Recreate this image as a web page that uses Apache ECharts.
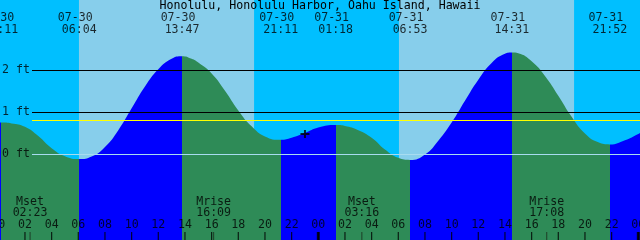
<!DOCTYPE html>
<html><head><meta charset="utf-8">
<script src="https://cdn.jsdelivr.net/npm/echarts@6/dist/echarts.min.js"></script>
<style>html,body{margin:0;padding:0;background:#00BFFF}#c{width:640px;height:240px}</style>
</head><body><div id="c"></div>
<script>
// ---------------- data ----------------
const title = 'Honolulu, Honolulu Harbor, Oahu Island, Hawaii';
const tideDates = ['07-30','07-30','07-30','07-30','07-31','07-31','07-31','07-31'];
const tideClock = ['00:11','06:04','13:47','21:11','01:18','06:53','14:31','21:52'];
const tideType  = ['H','L','H','L','H','L','H','L'];
// tide curve: hours since 07-30 00:00, feet
const curveHours = [0,0.183,1,2,3,4,5,6.067,7,8,9,10,11,12,13,13.783,14.5,15,16,17,18,19,20,21.183,22,23,24,25.3,26,27,28,29,30,30.883,32,33,34,35,36,37,38,38.517,39,40,41,42,43,44,45,45.867,47,48,48.2];
const curveFeet  = [0.76,0.76,0.74,0.66,0.44,0.15,-0.04,-0.11,-0.05,0.18,0.58,1.10,1.62,2.03,2.28,2.34,2.28,2.19,1.93,1.52,1.05,0.67,0.43,0.35,0.40,0.51,0.64,0.70,0.68,0.58,0.40,0.12,-0.08,-0.13,0.00,0.33,0.76,1.28,1.78,2.18,2.40,2.43,2.41,2.22,1.87,1.40,0.90,0.50,0.29,0.24,0.34,0.49,0.52];
const sunriseDates = ['07-30','07-31'];
const sunriseClock = ['06:03','06:03'];
const sunsetDates  = ['07-30','07-31'];
const sunsetClock  = ['19:11','19:11'];
const moonNames = ['Mset','Mrise','Mset','Mrise'];
const moonDates = ['07-30','07-30','07-31','07-31'];
const moonClock = ['02:23','16:09','03:16','17:08'];
const hourTicks  = [0,2,4,6,8,10,12,14,16,18,20,22,24,26,28,30,32,34,36,38,40,42,44,46,48];
const hourLabels = ['00','02','04','06','08','10','12','14','16','18','20','22','00','02','04','06','08','10','12','14','16','18','20','22','00'];
const midnightTicks = [0,24,48];
const levelFeet   = [0,1,2];
const levelLabels = ['0 ft','1 ft','2 ft'];
const mslFeet = 0.81;
const nowDate = '07-30', nowClock = '23:00', nowFeet = 0.49;

// ---------------- layout ----------------
const W = 640, H = 240;
const PX_PER_HOUR = W / 48;
const X_MIN = 1.7 / PX_PER_HOUR, X_MAX = X_MIN + 48;
const PX_PER_FT = 42, ZERO_Y = 154.5;
const Y_MAX = ZERO_Y / PX_PER_FT, Y_MIN = -(H - ZERO_Y) / PX_PER_FT;
const pyToFeet = py => Y_MAX - py / PX_PER_FT;
const LINE_X0 = X_MIN + 32 / PX_PER_HOUR;
const toHours = (d, c) => (parseInt(d.slice(3), 10) - 30) * 24 + parseInt(c.slice(0, 2), 10) + parseInt(c.slice(3), 10) / 60;

const NIGHT = '#00BFFF', DAY = '#87CEEB', RISE = '#0000FF', FALL = '#2E8B57';
const FONT = 'DejaVu Sans Mono', FS = 11.6;

const tideHours = tideDates.map((d, i) => toHours(d, tideClock[i]));
const moonHours = moonDates.map((d, i) => toHours(d, moonClock[i]));
const nowHour = toHours(nowDate, nowClock);

const pieces = [];
pieces.push({ lt: tideHours[0], color: tideType[0] === 'H' ? RISE : FALL });
for (let i = 0; i < tideHours.length - 1; i++) {
  pieces.push({ gte: tideHours[i], lt: tideHours[i + 1], color: tideType[i] === 'H' ? FALL : RISE });
}
const last = tideHours.length - 1;
pieces.push({ gte: tideHours[last], color: tideType[last] === 'H' ? FALL : RISE });

function textSeries(points, labels, offset, extra) {
  return Object.assign({
    type: 'scatter', z: 10, clip: false, silent: true, symbolSize: 0,
    data: points,
    label: {
      show: true, position: 'inside', offset: offset,
      formatter: p => labels[p.dataIndex],
      fontFamily: FONT, fontSize: FS, color: '#000'
    }
  }, extra || {});
}
function tickSeries(hours, w, color) {
  return {
    type: 'scatter', z: 9, clip: true, silent: true,
    symbol: 'rect', symbolSize: [w, 16],
    itemStyle: { color: color },
    data: hours.map(h => [h, Y_MIN])
  };
}

const option = {
  animation: false,
  backgroundColor: NIGHT,
  title: {
    text: title, left: 'center', top: 0, padding: 0,
    textStyle: { fontFamily: FONT, fontSize: FS, fontWeight: 'normal', color: '#000' }
  },
  grid: { left: 0, right: 0, top: 0, bottom: 0 },
  xAxis: { type: 'value', min: X_MIN, max: X_MAX, show: false },
  yAxis: { type: 'value', min: Y_MIN, max: Y_MAX, show: false },
  visualMap: [{ type: 'piecewise', show: false, dimension: 0, seriesIndex: 2, pieces: pieces }],
  series: [
    { // day bands
      type: 'line', z: 1, silent: true, data: [[X_MIN, Y_MIN]], showSymbol: false,
      lineStyle: { opacity: 0 },
      markArea: {
        silent: true, itemStyle: { color: DAY },
        data: sunriseDates.map((d, i) => [
          { xAxis: toHours(d, sunriseClock[i]) },
          { xAxis: toHours(sunsetDates[i], sunsetClock[i]) }
        ])
      }
    },
    { // black level lines behind the water
      type: 'line', z: 2, silent: true, data: [[X_MIN, Y_MIN]], showSymbol: false,
      lineStyle: { opacity: 0 },
      markLine: {
        silent: true, symbol: ['none', 'none'], animation: false,
        label: { show: false },
        lineStyle: { color: '#000', width: 1, type: 'solid' },
        data: levelFeet.filter(v => v !== 0).map(v => [{ coord: [LINE_X0, v] }, { coord: [X_MAX, v] }])
      }
    },
    { // tide
      type: 'line', z: 3, silent: true, smooth: 0.5, showSymbol: false,
      data: curveHours.map((h, i) => [h, curveFeet[i]]),
      lineStyle: { width: 0 },
      areaStyle: { opacity: 1, origin: 'start' }
    },
    { // datum + msl lines on top
      type: 'line', z: 4, silent: true, data: [[X_MIN, Y_MIN]], showSymbol: false,
      lineStyle: { opacity: 0 },
      markLine: {
        silent: true, symbol: ['none', 'none'], animation: false,
        label: { show: false },
        data: [
          ...levelFeet.filter(v => v === 0).map(v => [
            { coord: [LINE_X0, v], lineStyle: { color: '#A8DCF0', width: 1, type: 'solid' } },
            { coord: [X_MAX, v] }
          ]),
          [
            { coord: [LINE_X0, mslFeet], lineStyle: { color: '#FFFF00', width: 1, type: 'solid' } },
            { coord: [X_MAX, mslFeet] }
          ]
        ]
      }
    },
    // level labels
    textSeries(levelFeet.map(v => [X_MIN, v]), levelLabels, [2, -1], {
      label: { show: true, position: 'inside', align: 'left', offset: [2, -1],
        formatter: p => levelLabels[p.dataIndex], fontFamily: FONT, fontSize: FS, color: '#000' }
    }),
    // tide event labels
    textSeries(tideHours.map(h => [h, pyToFeet(17.5)]), tideDates, [-4, 0]),
    textSeries(tideHours.map(h => [h, pyToFeet(29.5)]), tideClock, [0, 0]),
    // moon labels
    textSeries(moonHours.map(h => [h, pyToFeet(202)]), moonNames, [0, 0]),
    textSeries(moonHours.map(h => [h, pyToFeet(213)]), moonClock, [0, 0]),
    // hour labels
    textSeries(hourTicks.map(h => [h, pyToFeet(225)]), hourLabels, [0, 0]),
    // ticks
    tickSeries(hourTicks, 1.2, '#000'),
    tickSeries(midnightTicks, 3, '#000'),
    tickSeries(moonHours, 1, '#1a2a1a'),
    { // now marker
      type: 'scatter', z: 8, silent: true, clip: false,
      symbol: 'path://M3.5,0H5.5V3H9V5H5.5V8H3.5V5H0V3H3.5Z', symbolSize: [9, 8],
      itemStyle: { color: '#000' },
      data: [[nowHour, nowFeet]]
    }
  ]
};
const chart = echarts.init(document.getElementById('c'), null, { renderer: 'canvas' });
chart.setOption(option);
</script></body></html>
